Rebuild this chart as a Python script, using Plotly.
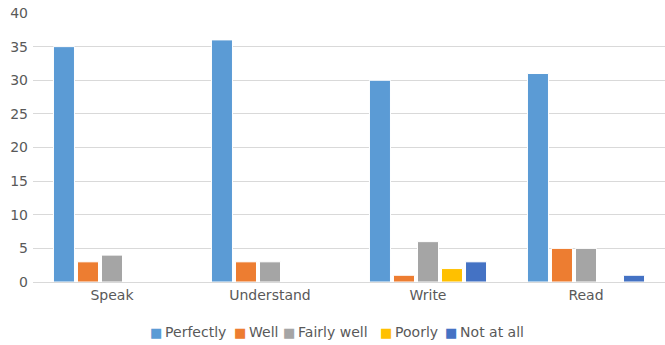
import plotly.graph_objects as go

categories = ["Speak", "Understand", "Write", "Read"]
series_names = ["Perfectly", "Well", "Fairly well", "Poorly", "Not at all"]
perfectly = [35, 36, 30, 31]
well = [3, 3, 1, 5]
fairly_well = [4, 3, 6, 5]
poorly = [0, 0, 2, 0]
not_at_all = [0, 0, 3, 1]
colors = ["#5B9BD5", "#ED7D31", "#A5A5A5", "#FFC000", "#4472C4"]
y_ticks = [0, 5, 10, 15, 20, 25, 30, 35, 40]

values = [perfectly, well, fairly_well, poorly, not_at_all]

W, H = 665, 345
ML, MR, MT, MB = 33, 0, 13, 63
PW, PH = W - ML - MR, H - MT - MB

fig = go.Figure()
for name, vals, c in zip(series_names, values, colors):
    fig.add_trace(go.Bar(x=categories, y=vals, name=name, showlegend=False,
                         marker=dict(color=c, line=dict(color="white", width=1))))

font = dict(family="DejaVu Sans", size=14, color="#595959")

# compact legend drawn as text entries (Excel-style spacing)
legend_left_px = [149, 233, 282, 379, 444]
annotations = []
for name, c, lx in zip(series_names, colors, legend_left_px):
    annotations.append(dict(
        x=(lx - ML) / PW, y=(H - MB - 332) / PH, xref="paper", yref="paper",
        xanchor="left", yanchor="middle", showarrow=False, borderpad=0,
        text=f'<span style="color:{c};font-size:13px">■</span>\u2009{name}',
        font=font))

fig.update_layout(
    width=W, height=H,
    margin=dict(l=ML, r=MR, t=MT, b=MB, autoexpand=False),
    paper_bgcolor="white", plot_bgcolor="white",
    barmode="group", bargap=0.24, bargroupgap=0.125,
    font=font, showlegend=False, annotations=annotations,
    xaxis=dict(showgrid=False, showline=True, linecolor="#d9d9d9", linewidth=1,
               ticks="", tickfont=font, automargin=False),
    yaxis=dict(range=[0, 40], tickvals=y_ticks, showgrid=True, gridcolor="#d9d9d9",
               gridwidth=1, zeroline=False, showline=False, ticks="", tickfont=font,
               ticklabelstandoff=4, automargin=False),
)
fig.write_html("out.html")
